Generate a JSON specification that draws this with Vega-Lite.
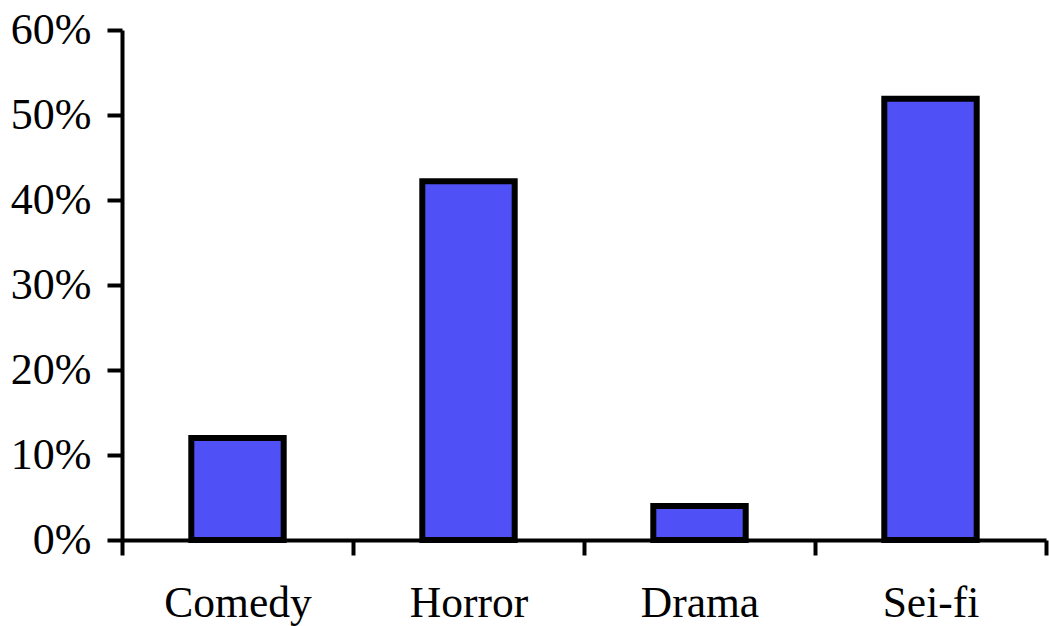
{
  "$schema": "https://vega.github.io/schema/vega-lite/v6.json",
  "width": 924,
  "height": 510,
  "autosize": {"type": "none"},
  "padding": {"left": 122, "top": 30, "right": 3, "bottom": 86},
  "background": "white",
  "data": {
    "values": [
      {"genre": "Comedy", "share": 0.12},
      {"genre": "Horror", "share": 0.422},
      {"genre": "Drama", "share": 0.04},
      {"genre": "Sei-fi", "share": 0.519}
    ]
  },
  "mark": {"type": "bar", "fill": "#5050F7", "stroke": "black", "strokeWidth": 6, "width": {"band": 0.4}},
  "encoding": {
    "x": {
      "field": "genre",
      "type": "nominal",
      "sort": null,
      "scale": {"paddingInner": 0, "paddingOuter": 0},
      "axis": {
        "title": null,
        "labelAngle": 0,
        "tickBand": "extent",
        "labelFont": "Liberation Serif",
        "labelFontSize": 43.5,
        "labelColor": "black",
        "labelPadding": 27,
        "tickSize": 15,
        "tickWidth": 4,
        "tickColor": "black",
        "domainColor": "black",
        "domainWidth": 4,
        "grid": false
      }
    },
    "y": {
      "field": "share",
      "type": "quantitative",
      "scale": {"domain": [0, 0.6], "nice": false},
      "axis": {
        "title": null,
        "values": [0, 0.1, 0.2, 0.3, 0.4, 0.5, 0.6],
        "format": ".0%",
        "labelFont": "Liberation Serif",
        "labelFontSize": 44,
        "labelColor": "black",
        "labelPadding": 16,
        "tickSize": 15,
        "tickWidth": 4,
        "tickColor": "black",
        "domainColor": "black",
        "domainWidth": 4,
        "grid": false
      }
    }
  },
  "config": {"view": {"stroke": null}}
}
